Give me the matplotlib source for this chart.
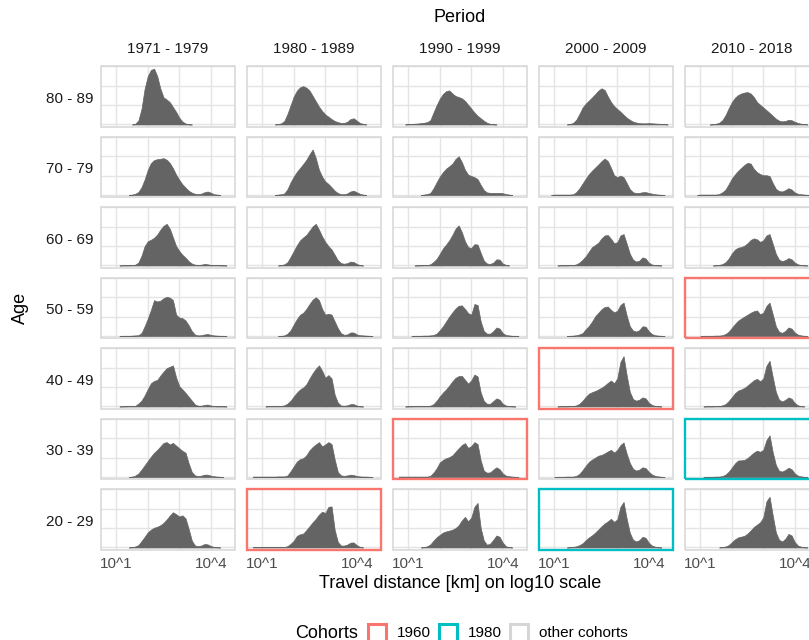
import numpy as np
import matplotlib
matplotlib.use("Agg")
import matplotlib.pyplot as plt
from matplotlib.patches import Rectangle

plt.rcParams["font.family"] = ["Liberation Sans", "DejaVu Sans"]

# ---------------------------------------------------------------------------
# data: density of log10(travel distance) per age group and period
# ---------------------------------------------------------------------------
PERIODS = ["1971 - 1979", "1980 - 1989", "1990 - 1999", "2000 - 2009", "2010 - 2018"]
AGES = ["80 - 89", "70 - 79", "60 - 69", "50 - 59", "40 - 49", "30 - 39", "20 - 29"]

# sampling grid, log10(km): 0.7, 0.8, ... 4.6
LOG_KM = np.round(np.arange(0.7, 4.65, 0.1), 1)

DENS_1971 = {
    "80 - 89": [0, 0, 0, 0, 0, 0, 0, 0, 0, 0.03, 0.2, 0.8, 1.85, 2.5, 2.82, 2.88, 2.5, 1.85, 1.4, 1.29,
                1.15, 0.9, 0.65, 0.35, 0.15, 0.05, 0.01, 0, 0, 0, 0, 0, 0, 0, 0, 0, 0, 0, 0, 0],
    "70 - 79": [0, 0, 0, 0, 0, 0, 0, 0, 0.02, 0.06, 0.15, 0.4, 0.8, 1.3, 1.65, 1.8, 1.85, 1.87, 1.9, 1.82,
                1.65, 1.38, 1.05, 0.78, 0.55, 0.38, 0.22, 0.12, 0.06, 0.05, 0.07, 0.14, 0.18, 0.12, 0.04, 0.02, 0, 0, 0, 0],
    "60 - 69": [0, 0, 0, 0, 0, 0.01, 0.01, 0.01, 0.02, 0.04, 0.15, 0.5, 1.0, 1.25, 1.33, 1.43, 1.6, 1.85, 2.05, 2.15,
                1.9, 1.45, 1.0, 0.75, 0.55, 0.4, 0.22, 0.1, 0.04, 0.03, 0.04, 0.08, 0.06, 0.03, 0.02, 0.02, 0.01, 0.01, 0, 0],
    "50 - 59": [0, 0, 0, 0, 0, 0.01, 0.01, 0.01, 0.02, 0.03, 0.04, 0.15, 0.5, 0.9, 1.35, 1.85, 1.78, 1.82, 1.95, 2.02,
                1.98, 1.85, 1.1, 0.95, 0.92, 0.8, 0.55, 0.25, 0.07, 0.03, 0.04, 0.08, 0.1, 0.06, 0.03, 0.02, 0.01, 0.01, 0, 0],
    "40 - 49": [0, 0, 0, 0, 0, 0.01, 0.01, 0.02, 0.02, 0.03, 0.15, 0.3, 0.57, 0.9, 1.2, 1.32, 1.37, 1.6, 1.8, 1.98,
                2.05, 2.12, 1.5, 1.05, 0.88, 0.7, 0.5, 0.3, 0.1, 0.04, 0.04, 0.08, 0.1, 0.05, 0.02, 0.01, 0.01, 0.01, 0, 0],
    "30 - 39": [0, 0, 0, 0, 0, 0, 0, 0, 0.02, 0.07, 0.18, 0.38, 0.6, 0.83, 1.05, 1.25, 1.4, 1.58, 1.76, 1.8,
                1.68, 1.76, 1.62, 1.48, 1.35, 1.25, 0.7, 0.25, 0.08, 0.05, 0.07, 0.12, 0.12, 0.07, 0.04, 0.02, 0.01, 0, 0, 0],
    "20 - 29": [0, 0, 0, 0, 0, 0, 0, 0, 0.02, 0.05, 0.12, 0.33, 0.55, 0.78, 0.92, 1.02, 1.07, 1.15, 1.27, 1.45,
                1.65, 1.82, 1.72, 1.6, 1.66, 1.5, 0.95, 0.35, 0.1, 0.07, 0.1, 0.18, 0.16, 0.08, 0.03, 0.01, 0, 0, 0, 0],
}

DENS_1980 = {
    "80 - 89": [0, 0, 0, 0, 0, 0, 0, 0, 0.02, 0.06, 0.18, 0.55, 1.0, 1.45, 1.75, 1.92, 1.98, 1.9, 1.75, 1.48,
                1.2, 0.92, 0.7, 0.52, 0.4, 0.28, 0.18, 0.12, 0.08, 0.08, 0.14, 0.28, 0.32, 0.2, 0.08, 0.03, 0, 0, 0, 0],
    "70 - 79": [0, 0, 0, 0, 0, 0, 0, 0, 0.02, 0.04, 0.08, 0.3, 0.66, 0.95, 1.2, 1.4, 1.6, 1.82, 2.1, 2.35,
                1.9, 1.3, 0.95, 0.7, 0.57, 0.4, 0.22, 0.1, 0.04, 0.04, 0.08, 0.18, 0.22, 0.14, 0.06, 0.02, 0, 0, 0, 0],
    "60 - 69": [0, 0, 0, 0, 0, 0, 0, 0, 0, 0.02, 0.06, 0.17, 0.45, 0.75, 1.05, 1.3, 1.45, 1.58, 1.8, 2.02,
                2.15, 1.85, 1.5, 1.22, 1.0, 0.83, 0.55, 0.27, 0.12, 0.09, 0.12, 0.2, 0.18, 0.08, 0.02, 0, 0, 0, 0, 0],
    "50 - 59": [0, 0, 0, 0, 0, 0, 0, 0, 0, 0.01, 0.03, 0.12, 0.3, 0.6, 0.88, 1.1, 1.2, 1.4, 1.65, 1.88,
                2.0, 1.85, 1.4, 1.1, 1.15, 1.1, 0.75, 0.4, 0.14, 0.06, 0.08, 0.18, 0.18, 0.08, 0.04, 0.03, 0.02, 0.01, 0, 0],
    "40 - 49": [0, 0, 0, 0, 0, 0.02, 0.02, 0.02, 0.02, 0.03, 0.06, 0.15, 0.3, 0.52, 0.72, 0.88, 0.98, 1.15, 1.45, 1.72,
                1.95, 2.12, 1.85, 1.48, 1.62, 1.45, 0.6, 0.2, 0.05, 0.04, 0.06, 0.12, 0.12, 0.05, 0.01, 0, 0, 0, 0, 0],
    "30 - 39": [0.02, 0.02, 0.02, 0.02, 0.02, 0.02, 0.02, 0.02, 0.03, 0.03, 0.03, 0.08, 0.3, 0.55, 0.8, 0.92, 0.97, 1.12, 1.38, 1.55,
                1.68, 1.8, 1.58, 1.68, 1.8, 1.7, 0.9, 0.25, 0.08, 0.06, 0.08, 0.12, 0.1, 0.05, 0.03, 0.02, 0.02, 0.01, 0, 0],
    "20 - 29": [0.02, 0.02, 0.02, 0.02, 0.02, 0.02, 0.02, 0.02, 0.02, 0.02, 0.02, 0.07, 0.19, 0.35, 0.6, 0.68, 0.72, 0.9, 1.1, 1.3,
                1.48, 1.7, 1.85, 1.78, 2.1, 2.12, 0.9, 0.28, 0.1, 0.1, 0.15, 0.25, 0.26, 0.12, 0.03, 0, 0, 0, 0, 0],
}

DENS_1990 = {
    "80 - 89": [0, 0, 0, 0.02, 0.03, 0.04, 0.05, 0.07, 0.09, 0.12, 0.22, 0.62, 1.0, 1.33, 1.58, 1.72, 1.76, 1.6, 1.47, 1.42,
                1.35, 1.22, 1.02, 0.82, 0.62, 0.45, 0.32, 0.19, 0.09, 0.03, 0.01, 0, 0, 0, 0, 0, 0, 0, 0, 0],
    "70 - 79": [0, 0, 0, 0, 0, 0, 0, 0, 0.02, 0.05, 0.1, 0.35, 0.66, 0.95, 1.18, 1.36, 1.48, 1.62, 1.86, 2.0,
                1.7, 1.3, 1.05, 0.98, 0.92, 0.82, 0.52, 0.25, 0.13, 0.11, 0.11, 0.11, 0.11, 0.09, 0.05, 0.02, 0, 0, 0, 0],
    "60 - 69": [0, 0, 0, 0, 0, 0, 0.01, 0.01, 0.02, 0.02, 0.06, 0.18, 0.34, 0.6, 0.88, 1.08, 1.3, 1.58, 1.9, 2.07,
                1.72, 1.25, 0.95, 0.9, 1.1, 1.08, 0.65, 0.25, 0.1, 0.08, 0.15, 0.32, 0.3, 0.1, 0.03, 0, 0, 0, 0, 0],
    "50 - 59": [0, 0, 0, 0, 0, 0.01, 0.01, 0.01, 0.02, 0.02, 0.03, 0.05, 0.12, 0.3, 0.5, 0.75, 1.0, 1.22, 1.42, 1.56,
                1.58, 1.4, 1.18, 1.1, 1.65, 1.6, 0.75, 0.25, 0.12, 0.12, 0.25, 0.44, 0.38, 0.15, 0.05, 0.03, 0.01, 0.01, 0, 0],
    "40 - 49": [0, 0, 0, 0.01, 0.01, 0.02, 0.02, 0.02, 0.03, 0.03, 0.04, 0.12, 0.3, 0.52, 0.72, 0.88, 1.08, 1.3, 1.48, 1.57,
                1.58, 1.38, 1.18, 1.35, 1.65, 1.55, 0.72, 0.28, 0.14, 0.14, 0.28, 0.42, 0.35, 0.14, 0.05, 0.02, 0.01, 0, 0, 0],
    "30 - 39": [0.02, 0.02, 0.02, 0.02, 0.02, 0.02, 0.02, 0.02, 0.02, 0.02, 0.06, 0.22, 0.45, 0.75, 0.88, 0.97, 1.02, 1.12, 1.3, 1.48,
                1.65, 1.75, 1.5, 1.6, 1.8, 1.7, 0.85, 0.32, 0.22, 0.24, 0.38, 0.5, 0.4, 0.18, 0.07, 0.04, 0.02, 0.01, 0, 0],
    "20 - 29": [0, 0, 0, 0, 0, 0, 0, 0, 0.02, 0.06, 0.16, 0.35, 0.53, 0.65, 0.77, 0.83, 0.87, 0.92, 1.0, 1.15,
                1.4, 1.58, 1.35, 1.55, 2.1, 2.3, 1.0, 0.35, 0.14, 0.2, 0.4, 0.62, 0.55, 0.25, 0.06, 0.02, 0, 0, 0, 0],
}

DENS_2000 = {
    "80 - 89": [0, 0, 0, 0, 0, 0, 0, 0, 0.03, 0.08, 0.25, 0.55, 0.88, 1.08, 1.24, 1.4, 1.57, 1.75, 1.87, 1.78,
                1.45, 1.16, 0.95, 0.8, 0.66, 0.5, 0.35, 0.24, 0.15, 0.1, 0.07, 0.06, 0.06, 0.07, 0.06, 0.05, 0.04, 0.03, 0.02, 0],
    "70 - 79": [0, 0, 0, 0.02, 0.02, 0.02, 0.02, 0.02, 0.02, 0.04, 0.15, 0.35, 0.6, 0.85, 1.08, 1.26, 1.42, 1.58, 1.75, 1.88,
                1.75, 1.4, 1.02, 0.92, 1.0, 0.92, 0.62, 0.3, 0.14, 0.1, 0.11, 0.14, 0.15, 0.1, 0.07, 0.04, 0.02, 0.01, 0, 0],
    "60 - 69": [0, 0, 0, 0, 0, 0.01, 0.01, 0.01, 0.02, 0.02, 0.06, 0.15, 0.3, 0.48, 0.72, 0.95, 1.06, 1.18, 1.4, 1.55,
                1.57, 1.38, 1.15, 1.2, 1.55, 1.62, 1.12, 0.6, 0.3, 0.2, 0.25, 0.42, 0.36, 0.15, 0.05, 0.02, 0.01, 0, 0, 0],
    "50 - 59": [0, 0, 0, 0, 0, 0, 0, 0, 0.01, 0.02, 0.04, 0.08, 0.15, 0.35, 0.52, 0.75, 1.02, 1.2, 1.38, 1.5,
                1.52, 1.35, 1.22, 1.3, 1.6, 1.72, 1.05, 0.5, 0.28, 0.23, 0.3, 0.5, 0.48, 0.25, 0.1, 0.04, 0.02, 0.01, 0, 0],
    "40 - 49": [0, 0, 0, 0, 0, 0.01, 0.01, 0.01, 0.02, 0.02, 0.06, 0.14, 0.3, 0.5, 0.66, 0.74, 0.8, 0.88, 0.97, 1.08,
                1.22, 1.34, 1.2, 1.45, 2.3, 2.6, 1.6, 0.75, 0.38, 0.3, 0.35, 0.47, 0.42, 0.2, 0.08, 0.03, 0.01, 0, 0, 0],
    "30 - 39": [0, 0, 0, 0, 0.01, 0.01, 0.01, 0.02, 0.02, 0.02, 0.06, 0.16, 0.36, 0.58, 0.78, 0.9, 1.0, 1.1, 1.14, 1.22,
                1.32, 1.4, 1.26, 1.4, 1.65, 1.78, 1.2, 0.72, 0.42, 0.33, 0.38, 0.5, 0.46, 0.27, 0.13, 0.06, 0.03, 0.01, 0, 0],
    "20 - 29": [0, 0, 0, 0, 0, 0, 0, 0, 0.01, 0.03, 0.06, 0.12, 0.22, 0.38, 0.52, 0.63, 0.77, 0.93, 1.1, 1.24,
                1.35, 1.48, 1.32, 1.45, 2.1, 2.35, 1.48, 0.75, 0.4, 0.31, 0.38, 0.55, 0.5, 0.25, 0.1, 0.04, 0.01, 0, 0, 0],
}

DENS_2010 = {
    "80 - 89": [0, 0, 0, 0, 0, 0, 0, 0.01, 0.04, 0.09, 0.22, 0.48, 0.83, 1.15, 1.38, 1.52, 1.6, 1.65, 1.67, 1.6,
                1.42, 1.16, 1.02, 0.88, 0.74, 0.6, 0.45, 0.3, 0.2, 0.16, 0.18, 0.24, 0.22, 0.14, 0.08, 0.04, 0.02, 0, 0, 0],
    "70 - 79": [0, 0, 0, 0.02, 0.02, 0.02, 0.02, 0.02, 0.02, 0.05, 0.14, 0.28, 0.55, 0.85, 1.06, 1.25, 1.4, 1.55, 1.66, 1.62,
                1.35, 1.18, 1.08, 1.02, 1.02, 0.98, 0.62, 0.32, 0.2, 0.18, 0.25, 0.35, 0.28, 0.13, 0.06, 0.04, 0.02, 0.01, 0, 0],
    "60 - 69": [0, 0, 0, 0, 0, 0, 0, 0, 0.01, 0.03, 0.07, 0.17, 0.35, 0.62, 0.82, 0.92, 0.95, 1.02, 1.15, 1.32,
                1.4, 1.35, 1.22, 1.3, 1.55, 1.62, 1.12, 0.6, 0.3, 0.22, 0.28, 0.38, 0.32, 0.15, 0.06, 0.02, 0.01, 0, 0, 0],
    "50 - 59": [0, 0, 0, 0, 0.01, 0.01, 0.01, 0.01, 0.02, 0.02, 0.04, 0.1, 0.22, 0.42, 0.62, 0.79, 0.9, 1.0, 1.1, 1.2,
                1.28, 1.32, 1.12, 1.2, 1.55, 1.72, 1.12, 0.5, 0.22, 0.16, 0.26, 0.44, 0.38, 0.18, 0.07, 0.03, 0.01, 0, 0, 0],
    "40 - 49": [0, 0, 0, 0, 0, 0.01, 0.01, 0.01, 0.02, 0.02, 0.06, 0.12, 0.28, 0.48, 0.68, 0.82, 0.88, 0.96, 1.08, 1.22,
                1.35, 1.43, 1.3, 1.45, 2.1, 2.36, 1.52, 0.75, 0.35, 0.26, 0.34, 0.47, 0.4, 0.18, 0.06, 0.02, 0, 0, 0, 0],
    "30 - 39": [0, 0, 0, 0, 0, 0.01, 0.01, 0.01, 0.02, 0.02, 0.05, 0.12, 0.27, 0.48, 0.7, 0.85, 0.86, 0.88, 0.98, 1.12,
                1.26, 1.36, 1.3, 1.4, 1.9, 2.15, 1.28, 0.62, 0.32, 0.28, 0.36, 0.48, 0.4, 0.18, 0.07, 0.03, 0.01, 0, 0, 0],
    "20 - 29": [0, 0, 0, 0, 0, 0, 0, 0, 0, 0, 0.02, 0.05, 0.12, 0.27, 0.42, 0.52, 0.56, 0.6, 0.72, 0.88,
                1.06, 1.18, 1.3, 1.55, 2.38, 2.62, 1.66, 0.78, 0.4, 0.31, 0.45, 0.7, 0.62, 0.28, 0.1, 0.04, 0.01, 0, 0, 0],
}

DENSITIES = [DENS_1971, DENS_1980, DENS_1990, DENS_2000, DENS_2010]

# cohorts highlighted with a coloured frame: (age, period)
COHORT_1960 = [("20 - 29", "1980 - 1989"), ("30 - 39", "1990 - 1999"),
               ("40 - 49", "2000 - 2009"), ("50 - 59", "2010 - 2018")]
COHORT_1980 = [("20 - 29", "2000 - 2009"), ("30 - 39", "2010 - 2018")]

X_BREAKS = [1, 2, 3, 4]
X_LABELS = ["10^1", "", "", "10^4"]
Y_BREAKS = [0, 1, 2, 3]

# ---------------------------------------------------------------------------
# style
# ---------------------------------------------------------------------------
W_PX, H_PX = 809, 640
FILL = "#646464"
GRID = "#E4E4E4"
FRAME_OTHER = "#D6D6D6"
FRAME_1960 = "#F8766D"
FRAME_1980 = "#00BFC4"

PANEL_X0, PANEL_DX, PANEL_W = 100.7, 146.0, 134.3
PANEL_Y0, PANEL_DY, PANEL_H = 66.0, 70.5, 60.8


def fx(px):
    return px / W_PX


def fy(py):
    return 1 - py / H_PX


def frame_color(age, period):
    if (age, period) in COHORT_1960:
        return FRAME_1960, 1.7
    if (age, period) in COHORT_1980:
        return FRAME_1980, 1.7
    return FRAME_OTHER, 1.1


fig = plt.figure(figsize=(W_PX / 100, H_PX / 100), dpi=100)
fig.patch.set_facecolor("white")

for j, period in enumerate(PERIODS):
    left = PANEL_X0 + j * PANEL_DX
    for i, age in enumerate(AGES):
        top = PANEL_Y0 + i * PANEL_DY
        ax = fig.add_axes([fx(left), fy(top + PANEL_H), PANEL_W / W_PX, PANEL_H / H_PX])
        ax.set_xlim(0.505, 4.77)
        ax.set_ylim(-0.12, 3.02)
        for s in ax.spines.values():
            s.set_visible(False)
        ax.set_xticks(X_BREAKS)
        ax.set_yticks(Y_BREAKS)
        ax.tick_params(length=0, labelleft=False)
        ax.grid(True, color=GRID, linewidth=1.0, zorder=0)
        ax.set_axisbelow(True)
        if i == len(AGES) - 1:
            ax.set_xticklabels(X_LABELS, fontsize=11, color="#4D4D4D")
            ax.tick_params(axis="x", pad=5)
        else:
            ax.set_xticklabels([])

        h = np.asarray(DENSITIES[j][age], dtype=float)
        nz = np.nonzero(h > 0)[0]
        a, b = max(nz[0] - 1, 0), min(nz[-1] + 1, len(h) - 1)
        xs, hs = LOG_KM[a:b + 1], h[a:b + 1]
        ax.fill_between(xs, 0, hs, facecolor=FILL, edgecolor=FILL, linewidth=0.5, zorder=2)

        col, lw = frame_color(age, period)
        ax.add_patch(Rectangle((0, 0), 1, 1, transform=ax.transAxes, fill=False,
                               edgecolor=col, linewidth=lw, clip_on=False, zorder=5))

        if i == 0:
            fig.text(fx(left + PANEL_W / 2), fy(49), period, ha="center", va="center",
                     fontsize=11, color="#1A1A1A")
        if j == 0:
            fig.text(fx(93), fy(top + PANEL_H / 2 + 2.5), age, ha="right", va="center",
                     fontsize=11, color="#1A1A1A")

# facet / axis titles
grid_mid = PANEL_X0 + (4 * PANEL_DX + PANEL_W) / 2
fig.text(fx(grid_mid), fy(18), "Period", ha="center", va="center", fontsize=13)
fig.text(fx(grid_mid), fy(583), "Travel distance [km] on log10 scale",
         ha="center", va="center", fontsize=13)
fig.text(fx(20), fy(PANEL_Y0 + (6 * PANEL_DY + PANEL_H) / 2), "Age", rotation=90,
         ha="center", va="center", fontsize=13)

# legend
fig.text(fx(295), fy(633), "Cohorts", ha="left", va="center", fontsize=13)
legend_items = [("1960", FRAME_1960, 368), ("1980", FRAME_1980, 439),
                ("other cohorts", FRAME_OTHER, 510)]
for label, col, kx in legend_items:
    fig.add_artist(Rectangle((fx(kx), fy(642)), 18 / W_PX, 18 / H_PX,
                             transform=fig.transFigure, facecolor="white",
                             edgecolor=col, linewidth=2.2))
    fig.text(fx(kx + 29), fy(633), label, ha="left", va="center", fontsize=11)

fig.savefig("out.png", dpi=100, facecolor="white")
